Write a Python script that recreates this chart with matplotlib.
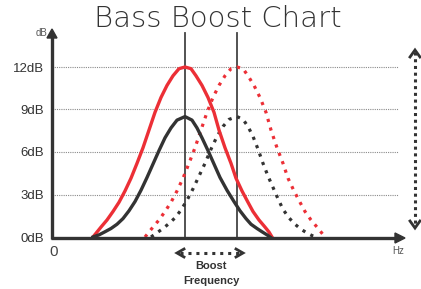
import matplotlib
matplotlib.use("Agg")
import matplotlib.pyplot as plt

# Data (x in frequency units along the axis, y in dB)
db_ticks = [0, 3, 6, 9, 12]
db_labels = ["0dB", "3dB", "6dB", "9dB", "12dB"]
centers = [133, 185]  # low / shifted centre frequency

red_solid_x = [41, 45, 49, 55, 61, 67, 73, 79, 85, 91, 97, 103, 109, 115, 121, 127, 133,
               139, 144, 150, 156, 162, 167, 173, 179, 184, 190, 196, 201, 207, 213, 217, 220]
red_solid_y = [0, 0.35, 0.7, 1.2, 1.8, 2.45, 3.25, 4.15, 5.2, 6.3, 7.55, 8.8, 9.85, 10.7, 11.38, 11.88, 12,
               11.88, 11.38, 10.7, 9.85, 8.8, 7.55, 6.3, 5.2, 4.15, 3.25, 2.45, 1.8, 1.2, 0.7, 0.35, 0]

black_solid_x = [41, 47, 53, 59, 65, 71, 77, 83, 89, 95, 101, 107, 113, 119, 125, 133,
                 140, 145, 150, 156, 162, 168, 175, 182, 188, 194, 199, 205, 210, 215, 218]
black_solid_y = [0, 0.15, 0.37, 0.6, 0.9, 1.3, 1.85, 2.5, 3.3, 4.2, 5.15, 6.1, 7.0, 7.7, 8.25, 8.5,
                 8.25, 7.7, 7.0, 6.1, 5.15, 4.2, 3.3, 2.5, 1.85, 1.3, 0.9, 0.6, 0.37, 0.15, 0]

red_dot_x = [93, 97, 101, 107, 113, 119, 125, 131, 137, 143, 149, 155, 161, 167, 173, 179, 185,
             191, 196, 202, 208, 214, 219, 225, 231, 236, 242, 248, 253, 259, 265, 269, 273]
red_dot_y = [0, 0.35, 0.7, 1.2, 1.8, 2.45, 3.25, 4.15, 5.2, 6.3, 7.55, 8.8, 9.85, 10.7, 11.38, 11.88, 12,
             11.88, 11.38, 10.7, 9.85, 8.8, 7.55, 6.3, 5.2, 4.15, 3.25, 2.45, 1.8, 1.2, 0.7, 0.35, 0]

black_dot_x = [99, 105, 111, 117, 123, 129, 135, 141, 147, 153, 159, 165, 171, 177, 185,
               191, 196, 201, 206, 211, 216, 221, 226, 231, 237, 243, 249, 255, 260, 265]
black_dot_y = [0, 0.3, 0.6, 0.95, 1.35, 1.9, 2.6, 3.4, 4.3, 5.2, 6.2, 7.1, 7.8, 8.3, 8.5,
               8.3, 7.8, 7.1, 6.2, 5.2, 4.3, 3.5, 2.7, 1.95, 1.35, 0.9, 0.55, 0.28, 0.1, 0]

RED = "#ec2f36"
DARK = "#333333"
W, H = 421, 289

fig = plt.figure(figsize=(W / 100, H / 100), dpi=100)
ax = fig.add_axes([52 / W, 52 / H, 347 / W, 204 / H])
ax.set_xlim(0, 347)
ax.set_ylim(0, 14.4)
for s in ax.spines.values():
    s.set_visible(False)
ax.set_xticks([])
ax.set_yticks(db_ticks)
ax.set_yticklabels(db_labels, fontsize=9.5, family="Liberation Sans", color=DARK)
ax.tick_params(axis="y", length=0, pad=6)

# dotted grid
for v in db_ticks[1:]:
    ax.axhline(v, color="#8a8a8a", lw=0.8, ls=(0, (1, 1)), zorder=1)

# centre frequency markers
for c in centers:
    ax.plot([c, c], [0, 14.4], color="#444444", lw=1.3, zorder=2, clip_on=False)

ax.plot(red_solid_x, red_solid_y, color=RED, lw=2.4, zorder=4,
        solid_joinstyle="round")
ax.plot(black_solid_x, black_solid_y, color=DARK, lw=2.4, zorder=4,
        solid_joinstyle="round")
ax.plot(red_dot_x, red_dot_y, color=RED, lw=2.3, ls=(0, (1, 1.8)), zorder=3)
ax.plot(black_dot_x, black_dot_y, color=DARK, lw=2.3, ls=(0, (1, 1.8)), zorder=3)

# overlay in pixel coordinates for axes arrows and annotations
ov = fig.add_axes([0, 0, 1, 1])
ov.set_xlim(0, W)
ov.set_ylim(H, 0)
ov.axis("off")
ov.patch.set_alpha(0)

# axes with filled arrow heads
ov.plot([52, 52], [239, 36], color=DARK, lw=2.4, solid_capstyle="butt")
ov.fill([47, 57, 52], [38, 38, 29], color=DARK)
ov.plot([51, 397], [238, 238], color=DARK, lw=2.4, solid_capstyle="butt")
ov.fill([395, 395, 405], [233, 243, 238], color=DARK)

# right side dotted double arrow
ov.plot([415, 415], [52, 226], color=DARK, lw=2.2, ls=(0, (1, 1.2)))
ov.plot([410, 415, 420], [57, 50, 57], color=DARK, lw=2, solid_joinstyle="miter")
ov.plot([410, 415, 420], [221, 228, 221], color=DARK, lw=2, solid_joinstyle="miter")

# boost frequency dotted double arrow
ov.plot([180, 240], [253, 253], color=DARK, lw=2.2, ls=(0, (1, 1.6)))
ov.plot([184, 177, 184], [249, 253, 257], color=DARK, lw=2, solid_joinstyle="miter")
ov.plot([236, 243, 236], [249, 253, 257], color=DARK, lw=2, solid_joinstyle="miter")

ov.text(211, 266, "Boost", ha="center", va="center", fontsize=8,
        fontweight="bold", family="Liberation Sans", color=DARK)
ov.text(211, 281, "Frequency", ha="center", va="center", fontsize=8,
        fontweight="bold", family="Liberation Sans", color=DARK)

ov.text(54, 252, "0", ha="center", va="center", fontsize=11,
        family="Liberation Sans", color="#444444")
ov.text(41, 33, "dB", ha="center", va="center", fontsize=7,
        family="Liberation Sans", color="#555555")
ov.text(398, 251, "Hz", ha="center", va="center", fontsize=7,
        family="Liberation Sans", color="#555555")

ov.text(218, 19, "Bass Boost Chart", ha="center", va="center", fontsize=21,
        family="DejaVu Sans", fontweight="light", color=DARK)

fig.savefig("out.png", dpi=100)
